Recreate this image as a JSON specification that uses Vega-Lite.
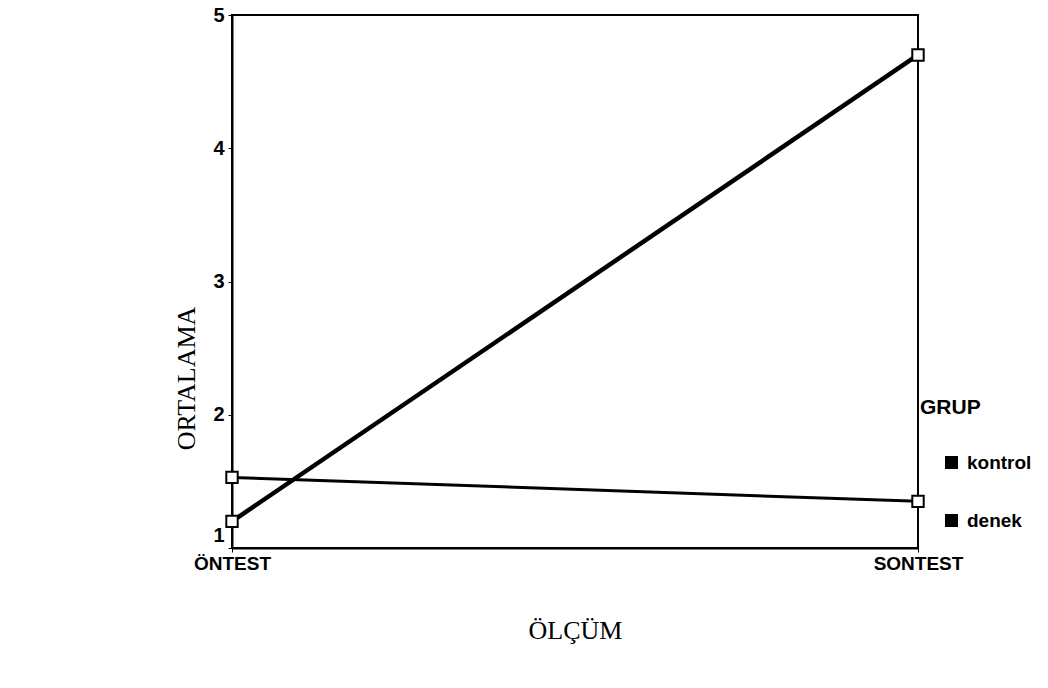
{
  "$schema": "https://vega.github.io/schema/vega-lite/v6.json",
  "width": 686,
  "height": 533,
  "padding": {"left": 232, "top": 15, "right": 130, "bottom": 140},
  "autosize": {"type": "none"},
  "background": "white",
  "config": {
    "view": {"stroke": "black", "strokeWidth": 2},
    "axis": {"domainColor": "black", "domainWidth": 2, "tickColor": "black", "labelColor": "black", "titleColor": "black", "grid": false}
  },
  "data": {
    "values": [
      {"olcum": "ÖNTEST", "grup": "kontrol", "ortalama": 1.53},
      {"olcum": "SONTEST", "grup": "kontrol", "ortalama": 1.35},
      {"olcum": "ÖNTEST", "grup": "denek", "ortalama": 1.2},
      {"olcum": "SONTEST", "grup": "denek", "ortalama": 4.7}
    ]
  },
  "encoding": {
    "x": {
      "field": "olcum", "type": "ordinal", "sort": ["ÖNTEST", "SONTEST"],
      "scale": {"type": "point", "padding": 0},
      "axis": {"title": "ÖLÇÜM", "labelAngle": 0, "labelFont": "Liberation Sans", "labelFontSize": 19, "labelFontWeight": "bold", "labelPadding": 2, "tickSize": 4,
               "titleFont": "Liberation Serif", "titleFontSize": 26, "titleFontWeight": "normal", "titleY": 82, "titleBaseline": "middle"}
    },
    "y": {
      "field": "ortalama", "type": "quantitative",
      "scale": {"domain": [1, 5], "nice": false, "zero": false},
      "axis": {"title": "ORTALAMA", "values": [1, 2, 3, 4, 5], "labelFont": "Liberation Sans", "labelFontSize": 20, "labelFontWeight": "bold", "tickSize": 4, "labelPadding": 4,
               "labelOffset": {"condition": {"test": "datum.value == 1", "value": -13}, "value": 0},
               "titleFont": "Liberation Serif", "titleFontSize": 26, "titleFontWeight": "normal", "titleX": -46, "titleY": 363, "titleAngle": -90, "titleBaseline": "middle", "titleAlign": "center"}
    }
  },
  "layer": [
    {
      "transform": [{"filter": "datum.grup == 'kontrol'"}],
      "mark": {"type": "line", "color": "black", "strokeWidth": 3},
      "encoding": {}
    },
    {
      "transform": [{"filter": "datum.grup == 'denek'"}],
      "mark": {"type": "line", "color": "black", "strokeWidth": 4.5},
      "encoding": {}
    },
    {
      "mark": {"type": "point", "shape": "square", "filled": false, "fill": "white", "fillOpacity": 1, "stroke": "black", "strokeWidth": 2, "size": 130, "opacity": 1},
      "encoding": {}
    },
    {
      "mark": {"type": "point", "shape": "square", "filled": true, "size": 0, "opacity": 1},
      "encoding": {
        "color": {
          "field": "grup", "type": "nominal", "sort": ["kontrol", "denek"],
          "scale": {"domain": ["kontrol", "denek"], "range": ["black", "black"]},
          "legend": {
            "title": "GRUP", "orient": "none", "legendX": 688, "legendY": 382,
            "symbolType": "square", "symbolSize": 170, "symbolOffset": 22, "symbolOpacity": 1, "symbolFillColor": "black",
            "titleFont": "Liberation Sans", "titleFontSize": 21, "titleFontWeight": "bold", "titleColor": "black", "titlePadding": 35,
            "labelFont": "Liberation Sans", "labelFontSize": 19, "labelFontWeight": "bold", "labelColor": "black", "rowPadding": 38, "labelOffset": 6, "padding": 0
          }
        }
      }
    }
  ]
}
